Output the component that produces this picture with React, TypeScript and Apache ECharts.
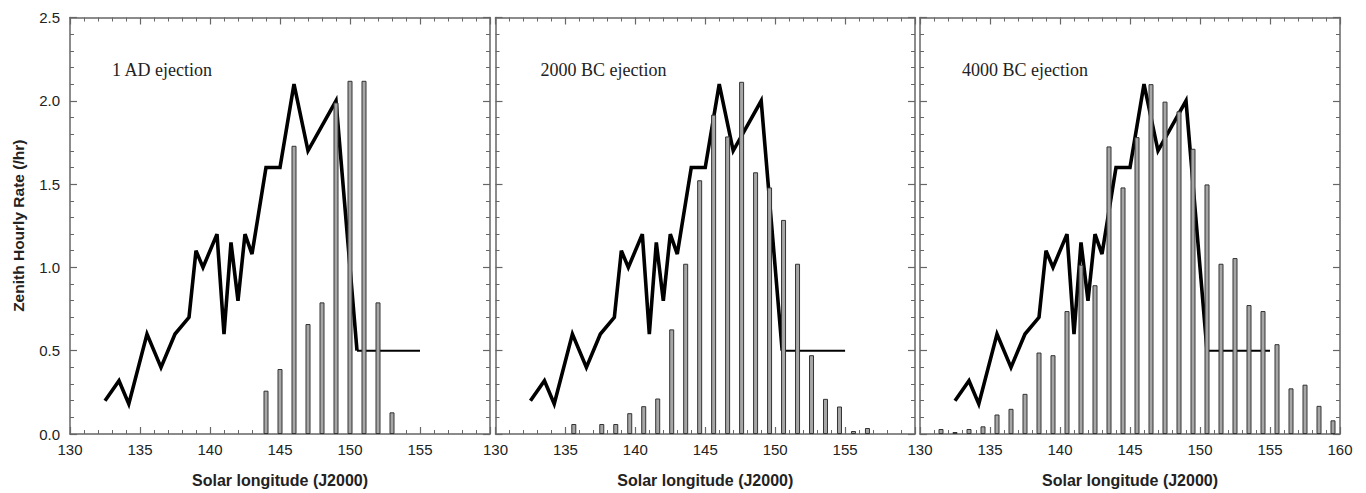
import React, { useEffect, useRef } from 'react';
import * as echarts from 'echarts';

// Observed ZHR profile (same in every panel)
const lineX = [132.5, 133.5, 134.2, 135.5, 136.5, 137.5, 138.5, 139.0, 139.5, 140.5, 141.0, 141.5, 142.0, 142.5, 143.0, 144.0, 145.0, 146.0, 147.0, 149.0, 150.5];
const lineY = [0.2, 0.32, 0.18, 0.6, 0.4, 0.6, 0.7, 1.1, 1.0, 1.2, 0.6, 1.15, 0.8, 1.2, 1.08, 1.6, 1.6, 2.1, 1.7, 2.0, 0.5];
const flatX = [150.5, 155.0];
const flatY = [0.5, 0.5];

// Model bars
const bars1X = [144, 145, 146, 147, 148, 149, 150, 151, 152, 153];
const bars1Y = [0.26, 0.39, 1.73, 0.66, 0.79, 1.99, 2.12, 2.12, 0.79, 0.13];

const bars2X = [135.6, 137.6, 138.6, 139.6, 140.6, 141.6, 142.6, 143.6, 144.6, 145.6, 146.6, 147.6, 148.6, 149.6, 150.6, 151.6, 152.6, 153.6, 154.6, 155.6, 156.6];
const bars2Y = [0.06, 0.06, 0.06, 0.125, 0.167, 0.213, 0.628, 1.022, 1.523, 1.917, 1.786, 2.114, 1.571, 1.48, 1.285, 1.022, 0.473, 0.211, 0.165, 0.018, 0.036];

const bars3X = [131.5, 132.5, 133.5, 134.5, 135.5, 136.5, 137.5, 138.5, 139.5, 140.5, 141.5, 142.5, 143.5, 144.5, 145.5, 146.5, 147.5, 148.5, 149.5, 150.5, 151.5, 152.5, 153.5, 154.5, 155.5, 156.5, 157.5, 158.5, 159.5];
const bars3Y = [0.03, 0.012, 0.03, 0.046, 0.117, 0.151, 0.241, 0.489, 0.473, 0.738, 1.016, 0.893, 1.726, 1.48, 1.782, 2.1, 1.995, 1.937, 1.712, 1.498, 1.022, 1.056, 0.774, 0.738, 0.539, 0.274, 0.296, 0.169, 0.082];

const panelTitles = ['1 AD ejection', '2000 BC ejection', '4000 BC ejection'];
const xTitle = 'Solar longitude (J2000)';
const yTitle = 'Zenith Hourly Rate (/hr)';
const xMin = 130;
const xMax = 160;
const xStep = 5;
const yMin = 0;
const yMax = 2.5;
const yStep = 0.5;

const zip = (a: number[], b: number[]) => a.map((v, i) => [v, b[i]]);

export default function App() {
  const ref = useRef<HTMLDivElement>(null);
  useEffect(() => {
    if (!ref.current) return;
    const chart = echarts.init(ref.current, undefined, { renderer: 'svg' });
    const frame = '#666666';
    const axisLine = { show: true, onZero: false, lineStyle: { color: frame, width: 1.5 } };
    const tick = { show: true, inside: true, length: 7, lineStyle: { color: frame, width: 1.2 } };
    const minor = { show: true, splitNumber: 5, length: 4, lineStyle: { color: frame, width: 1 } };
    const labelFont = { fontFamily: 'Liberation Sans, Arial, sans-serif', fontSize: 15, color: '#222' };
    const gridPos = [
      { left: 70, width: 420 },
      { left: 495.5, width: 419.5 },
      { left: 920, width: 420 },
    ];
    const barsX = [bars1X, bars2X, bars3X];
    const barsY = [bars1Y, bars2Y, bars3Y];

    const grid: any[] = [];
    const xAxis: any[] = [];
    const yAxis: any[] = [];
    const series: any[] = [];
    const graphic: any[] = [];

    gridPos.forEach((g, i) => {
      grid.push({ left: g.left, width: g.width, top: 17.5, height: 419.5, containLabel: false });
      xAxis.push({
        type: 'value', gridIndex: i, min: xMin, max: xMax, interval: xStep, position: 'bottom',
        axisLine, axisTick: tick, minorTick: minor, splitLine: { show: false },
        axisLabel: { ...labelFont, margin: 8, showMaxLabel: i === 2, showMinLabel: true },
        name: xTitle, nameLocation: 'middle', nameGap: 38,
        nameTextStyle: { fontFamily: 'Liberation Sans, Arial, sans-serif', fontSize: 16, fontWeight: 'bold', color: '#222' },
      });
      xAxis.push({
        type: 'value', gridIndex: i, min: xMin, max: xMax, interval: xStep, position: 'top',
        axisLine, axisTick: tick, minorTick: minor, splitLine: { show: false },
        axisLabel: { show: false },
      });
      yAxis.push({
        type: 'value', gridIndex: i, min: yMin, max: yMax, interval: yStep, position: 'left',
        axisLine, axisTick: tick, minorTick: minor, splitLine: { show: false },
        axisLabel: { show: i === 0, ...labelFont, margin: 10, formatter: (v: number) => v.toFixed(1) },
        name: i === 0 ? yTitle : '', nameLocation: 'middle', nameGap: 44,
        nameTextStyle: { fontFamily: 'Liberation Sans, Arial, sans-serif', fontSize: 15.5, fontWeight: 'bold', color: '#222' },
      });
      yAxis.push({
        type: 'value', gridIndex: i, min: yMin, max: yMax, interval: yStep, position: 'right',
        axisLine, axisTick: tick, minorTick: minor, splitLine: { show: false },
        axisLabel: { show: false },
      });
      series.push({
        type: 'line', xAxisIndex: 2 * i, yAxisIndex: 2 * i, data: zip(lineX, lineY),
        symbol: 'none', z: 2, lineStyle: { color: '#000', width: 3.6, join: 'miter', miterLimit: 10 },
      });
      series.push({
        type: 'line', xAxisIndex: 2 * i, yAxisIndex: 2 * i, data: zip(flatX, flatY),
        symbol: 'none', z: 2, lineStyle: { color: '#000', width: 2 },
      });
      series.push({
        type: 'bar', xAxisIndex: 2 * i, yAxisIndex: 2 * i, data: zip(barsX[i], barsY[i]),
        barWidth: 5, z: 3, itemStyle: { color: '#a6a6a6', borderColor: '#333', borderWidth: 1 },
      });
      graphic.push({
        type: 'text', left: g.left + (i === 1 ? 45 : 42), top: 61,
        style: { text: panelTitles[i], font: '18px "Liberation Serif", "Times New Roman", serif', fill: '#222' },
      });
    });

    chart.setOption({ animation: false, backgroundColor: '#fff', grid, xAxis, yAxis, series, graphic });
    return () => chart.dispose();
  }, []);
  return <div ref={ref} style={{ position: 'absolute', left: 0, top: 0, width: 1366, height: 493 }} />;
}
